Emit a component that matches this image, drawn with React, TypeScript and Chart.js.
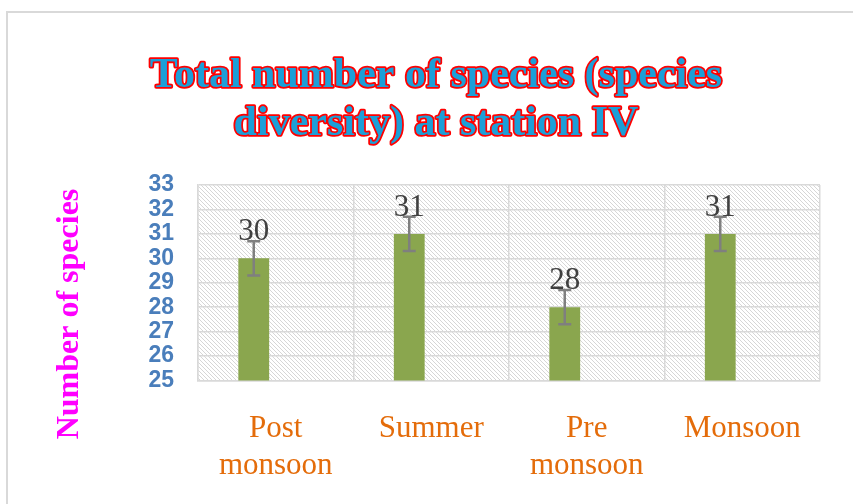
import React, { useEffect, useRef } from "react";
import { Chart, registerables } from "chart.js";

Chart.register(...registerables);

const categories: string[][] = [["Post", "monsoon"], ["Summer"], ["Pre", "monsoon"], ["Monsoon"]];
const speciesCount: number[] = [30, 31, 28, 31];
const errorValues: number[] = [0.7, 0.7, 0.7, 0.7];
const emptySeries: (number | null)[] = [null, null, null, null];
const titleLines: string[] = ["Total number of species (species", "diversity) at station IV"];
const yAxisTitle = "Number of species";
const yMin = 25;
const yMax = 33;

function makeHatch(): CanvasPattern | string {
  const c = document.createElement("canvas");
  c.width = 4;
  c.height = 4;
  const g = c.getContext("2d");
  if (!g) return "#fff";
  g.fillStyle = "#ffffff";
  g.fillRect(0, 0, 4, 4);
  g.strokeStyle = "#d6d6d6";
  g.lineWidth = 1;
  g.beginPath();
  g.moveTo(-1, -1);
  g.lineTo(5, 5);
  g.moveTo(-1, 3);
  g.lineTo(1, 5);
  g.moveTo(3, -1);
  g.lineTo(5, 1);
  g.stroke();
  const p = g.createPattern(c, "repeat");
  return p || "#fff";
}

export default function App() {
  const ref = useRef<HTMLCanvasElement | null>(null);

  useEffect(() => {
    if (!ref.current) return;
    const hatch = makeHatch();

    const decor = {
      id: "decor",
      beforeDraw(chart: any) {
        const { ctx, chartArea } = chart;
        ctx.save();
        ctx.strokeStyle = "#d9d9d9";
        ctx.lineWidth = 2;
        ctx.beginPath();
        ctx.moveTo(7, 504);
        ctx.lineTo(7, 12);
        ctx.lineTo(853, 12);
        ctx.stroke();
        ctx.fillStyle = hatch as any;
        ctx.fillRect(chartArea.left, chartArea.top, chartArea.right - chartArea.left, chartArea.bottom - chartArea.top);
        ctx.restore();
      },
      afterDraw(chart: any) {
        const { ctx } = chart;
        ctx.save();
        // title
        ctx.font = "bold 42px 'Liberation Serif'";
        ctx.textAlign = "center";
        ctx.textBaseline = "alphabetic";
        ctx.lineJoin = "round";
        const baselines = [87, 135];
        titleLines.forEach((t, i) => {
          ctx.strokeStyle = "#ff0000";
          ctx.lineWidth = 3.5;
          ctx.strokeText(t, 436, baselines[i]);
          ctx.fillStyle = "#1c9fd8";
          ctx.fillText(t, 436, baselines[i]);
        });
        // y axis title
        ctx.translate(70, 314);
        ctx.rotate(-Math.PI / 2);
        ctx.font = "bold 32px 'Liberation Serif'";
        ctx.fillStyle = "#ff00ff";
        ctx.textAlign = "center";
        ctx.textBaseline = "middle";
        ctx.fillText(yAxisTitle, 0, 0);
        ctx.restore();
      },
      afterDatasetsDraw(chart: any) {
        const { ctx } = chart;
        const meta = chart.getDatasetMeta(0);
        const yScale = chart.scales.y;
        ctx.save();
        meta.data.forEach((bar: any, i: number) => {
          const v = speciesCount[i];
          const e = errorValues[i];
          const x = bar.x;
          const yTop = yScale.getPixelForValue(v + e);
          const yBot = yScale.getPixelForValue(v - e);
          ctx.strokeStyle = "#7f7f7f";
          ctx.lineWidth = 2.5;
          ctx.beginPath();
          ctx.moveTo(x, yTop);
          ctx.lineTo(x, yBot);
          ctx.moveTo(x - 6.5, yTop);
          ctx.lineTo(x + 6.5, yTop);
          ctx.moveTo(x - 6.5, yBot);
          ctx.lineTo(x + 6.5, yBot);
          ctx.stroke();
          ctx.font = "31px 'Liberation Serif'";
          ctx.fillStyle = "#404040";
          ctx.textAlign = "center";
          ctx.textBaseline = "alphabetic";
          ctx.fillText(String(v), x, yTop - 1);
        });
        ctx.restore();
      },
    };

    const chart = new Chart(ref.current, {
      type: "bar",
      data: {
        labels: categories as any,
        datasets: [
          {
            data: speciesCount,
            backgroundColor: "#8aa64e",
            categoryPercentage: 0.566,
            barPercentage: 0.7,
          },
          {
            data: emptySeries as any,
            backgroundColor: "#4f81bd",
            categoryPercentage: 0.566,
            barPercentage: 0.7,
          },
        ],
      },
      options: {
        responsive: false,
        animation: false,
        layout: { padding: { top: 185, right: 33, left: 0, bottom: 0 } },
        plugins: {
          legend: { display: false },
          title: { display: false },
          tooltip: { enabled: false },
        },
        scales: {
          x: {
            grid: { color: "#d9d9d9", lineWidth: 1.5, drawTicks: false, offset: true },
            border: { display: true, color: "#d9d9d9", width: 1.5 },
            ticks: {
              color: "#e46c0a",
              font: { family: "'Liberation Serif'", size: 31, lineHeight: 1.22 },
              padding: 29,
              maxRotation: 0,
              autoSkip: false,
            },
            afterFit(scale: any) {
              scale.height = 123.5;
            },
          },
          y: {
            min: yMin,
            max: yMax,
            grid: { color: "#d9d9d9", lineWidth: 1.5, drawTicks: false },
            border: { display: true, color: "#d9d9d9", width: 1.5 },
            ticks: {
              stepSize: 1,
              autoSkip: false,
              color: "#4a7ebb",
              font: { family: "'Liberation Sans'", size: 23, weight: "bold", lineHeight: 1 },
              padding: 24,
            },
            afterFit(scale: any) {
              scale.width = 198;
            },
          },
        },
      },
      plugins: [decor],
    } as any);
    return () => chart.destroy();
  }, []);

  return (
    <div style={{ position: "fixed", left: 0, top: 0, width: 853, height: 504, background: "#fff" }}>
      <canvas ref={ref} width={853} height={504} style={{ display: "block" }} />
    </div>
  );
}
